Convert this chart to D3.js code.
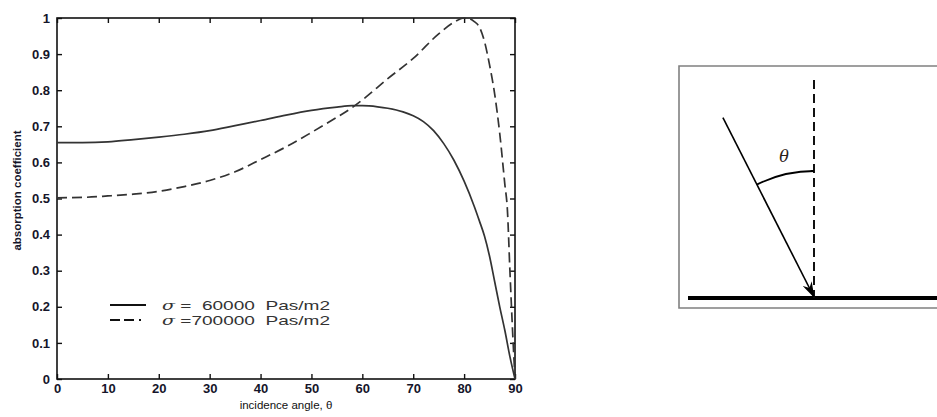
<!DOCTYPE html>
<html>
<head>
<meta charset="utf-8">
<script src="https://cdn.jsdelivr.net/npm/d3@7"></script>
<style>
  html, body { margin: 0; padding: 0; background: #fff; }
  svg { display: block; }
</style>
</head>
<body>
<svg id="chart" width="937" height="417"></svg>
<script>
// Incidence angle (degrees) and absorption coefficient for two flow resistivities
const angleLow = [0, 5, 10, 15, 20, 25, 30, 35, 40, 45, 50, 55, 58, 60, 63, 65, 68, 70, 72, 74, 76, 78, 80, 82, 83, 84, 85, 86, 87, 88, 89, 90];
const alphaLow = [0.655, 0.655, 0.657, 0.663, 0.670, 0.678, 0.688, 0.702, 0.716, 0.731, 0.744, 0.753, 0.757, 0.757, 0.754, 0.750, 0.740, 0.729, 0.713, 0.688, 0.652, 0.606, 0.548, 0.478, 0.438, 0.396, 0.340, 0.270, 0.200, 0.135, 0.062, 0.0];

const angleHigh = [0, 5, 10, 15, 20, 25, 30, 35, 40, 45, 50, 55, 58, 60, 65, 70, 75, 78, 80, 81, 82, 83, 84, 85, 86, 87, 88, 88.5, 89, 89.5, 90];
const alphaHigh = [0.502, 0.503, 0.507, 0.512, 0.520, 0.533, 0.550, 0.574, 0.608, 0.643, 0.683, 0.725, 0.752, 0.773, 0.832, 0.888, 0.956, 0.988, 1.0, 0.998, 0.990, 0.975, 0.935, 0.870, 0.790, 0.680, 0.540, 0.470, 0.300, 0.140, 0.0];

const xTicks = [0, 10, 20, 30, 40, 50, 60, 70, 80, 90];
const yTicks = [0, 0.1, 0.2, 0.3, 0.4, 0.5, 0.6, 0.7, 0.8, 0.9, 1];
const legendLabels = ["\u00a0=\u00a0\u00a060000\u00a0\u00a0Pas/m2", "\u00a0=700000\u00a0\u00a0Pas/m2"];
const xLabel = "incidence angle, \u03b8";
const yLabel = "absorption coefficient";

const svg = d3.select("#chart");
const plot = { left: 57, right: 515, top: 18, bottom: 379 };

const x = d3.scaleLinear().domain([0, 90]).range([plot.left, plot.right]);
const y = d3.scaleLinear().domain([0, 1]).range([plot.bottom, plot.top]);

const tickFont = "'Liberation Sans', Arial, sans-serif";
const fmt = d => String(+d.toFixed(1));

// Axes with inward ticks on all four sides
const axisStyle = g => {
  g.select(".domain").remove();
  g.selectAll(".tick line").attr("stroke", "#111").attr("stroke-width", 1.4);
  g.selectAll(".tick text").attr("font-family", tickFont).attr("font-weight", "bold")
    .attr("font-size", 13).attr("fill", "#15152a");
};

svg.append("g").attr("transform", `translate(0,${plot.bottom})`)
  .call(d3.axisBottom(x).tickValues(xTicks).tickFormat(fmt).tickSizeInner(-5).tickSizeOuter(0).tickPadding(5))
  .call(axisStyle);
svg.append("g").attr("transform", `translate(${plot.left},0)`)
  .call(d3.axisLeft(y).tickValues(yTicks).tickFormat(fmt).tickSizeInner(-5).tickSizeOuter(0).tickPadding(7))
  .call(axisStyle);
svg.append("g").attr("transform", `translate(0,${plot.top})`)
  .call(d3.axisTop(x).tickValues(xTicks).tickFormat("").tickSizeInner(-5).tickSizeOuter(0))
  .call(axisStyle);
svg.append("g").attr("transform", `translate(${plot.right},0)`)
  .call(d3.axisRight(y).tickValues(yTicks).tickFormat("").tickSizeInner(-5).tickSizeOuter(0))
  .call(axisStyle);

svg.append("rect")
  .attr("x", plot.left).attr("y", plot.top)
  .attr("width", plot.right - plot.left).attr("height", plot.bottom - plot.top)
  .attr("fill", "none").attr("stroke", "#111").attr("stroke-width", 1.6);

// Curves
const line = d3.line().x(d => x(d[0])).y(d => y(d[1])).curve(d3.curveMonotoneX);
const lowData = angleLow.map((a, i) => [a, alphaLow[i]]);
const highData = angleHigh.map((a, i) => [a, alphaHigh[i]]);

svg.append("path").datum(lowData).attr("d", line)
  .attr("fill", "none").attr("stroke", "#333").attr("stroke-width", 1.7);
svg.append("path").datum(highData).attr("d", line)
  .attr("fill", "none").attr("stroke", "#333").attr("stroke-width", 1.7)
  .attr("stroke-dasharray", "10,5");

// Axis titles
svg.append("text").attr("x", (plot.left + plot.right) / 2).attr("y", 409)
  .attr("text-anchor", "middle").attr("font-family", tickFont).attr("font-size", 11.5)
  .attr("fill", "#111").text(xLabel);
svg.append("text").attr("transform", `translate(21,${(plot.top + plot.bottom) / 2 - 8}) rotate(-90)`)
  .attr("text-anchor", "middle").attr("font-family", tickFont).attr("font-weight", "bold")
  .attr("font-size", 11.5).attr("fill", "#15152a").text(yLabel);

// Legend
const legend = svg.append("g").attr("transform", "translate(110,305)");
const legendDash = [null, "10,4,10,5,2,10"];
legendLabels.forEach((lab, i) => {
  const row = legend.append("g").attr("transform", `translate(0,${i * 15})`);
  row.append("line").attr("x1", 0).attr("x2", 36).attr("y1", 0).attr("y2", 0)
    .attr("stroke", "#111").attr("stroke-width", 1.8)
    .attr("stroke-dasharray", legendDash[i]);
  const t = row.append("text").attr("x", 52).attr("y", 4.5)
    .attr("font-family", tickFont).attr("font-size", 13.5).attr("fill", "#333")
    .attr("xml:space", "preserve")
    .attr("textLength", 168).attr("lengthAdjust", "spacingAndGlyphs");
  t.append("tspan").attr("font-family", "'DejaVu Serif', serif").attr("font-style", "italic").text("\u03c3");
  t.append("tspan").text(lab);
});

// Incidence geometry sketch
const sketch = { left: 679, top: 66, bottom: 308, footX: 814, groundY: 298, normalTop: 80, rayLen: 202, arcR: 127, theta: 26.8 };
const g = svg.append("g");
g.append("path")
  .attr("d", `M${937 + 2},${sketch.top}H${sketch.left}V${sketch.bottom}H${937 + 2}`)
  .attr("fill", "none").attr("stroke", "#808080").attr("stroke-width", 1.6);
g.append("line").attr("x1", 688).attr("x2", 940).attr("y1", sketch.groundY).attr("y2", sketch.groundY)
  .attr("stroke", "#000").attr("stroke-width", 4);
g.append("line").attr("x1", sketch.footX).attr("x2", sketch.footX)
  .attr("y1", sketch.normalTop).attr("y2", sketch.groundY)
  .attr("stroke", "#111").attr("stroke-width", 2).attr("stroke-dasharray", "9,5");

const rad = sketch.theta * Math.PI / 180;
const sx = sketch.footX - sketch.rayLen * Math.sin(rad);
const sy = sketch.groundY - sketch.rayLen * Math.cos(rad);
svg.append("defs").append("marker").attr("id", "head")
  .attr("viewBox", "0 0 16 10").attr("refX", 15).attr("refY", 5)
  .attr("markerWidth", 16).attr("markerHeight", 10).attr("markerUnits", "userSpaceOnUse")
  .attr("orient", "auto")
  .append("path").attr("d", "M0,0 L16,5 L0,10 L5,5 Z").attr("fill", "#000");
g.append("line").attr("x1", sx).attr("y1", sy).attr("x2", sketch.footX).attr("y2", sketch.groundY - 1)
  .attr("stroke", "#000").attr("stroke-width", 1.6).attr("marker-end", "url(#head)");

const arc = d3.arc().innerRadius(sketch.arcR).outerRadius(sketch.arcR).startAngle(-rad).endAngle(0);
g.append("path").attr("transform", `translate(${sketch.footX},${sketch.groundY})`)
  .attr("d", arc()).attr("fill", "none").attr("stroke", "#000").attr("stroke-width", 1.8);
g.append("text").attr("x", 784).attr("y", 162).attr("text-anchor", "middle")
  .attr("font-family", "'DejaVu Serif', serif").attr("font-style", "italic")
  .attr("font-size", 16).attr("fill", "#2a2018").text("\u03b8");
</script>
</body>
</html>
